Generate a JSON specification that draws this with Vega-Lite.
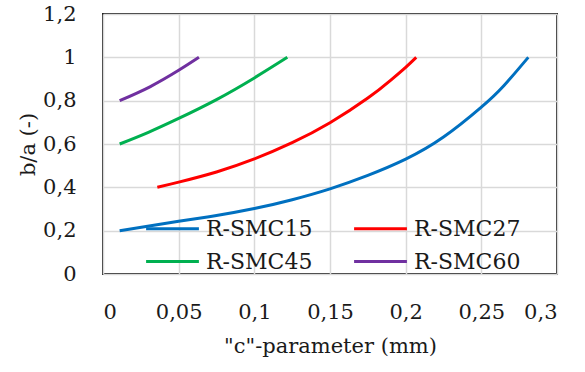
{
  "$schema": "https://vega.github.io/schema/vega-lite/v6.json",
  "width": 454,
  "height": 260,
  "autosize": "none",
  "padding": {"left": 103, "top": 14, "right": 28, "bottom": 98},
  "background": "white",
  "config": {
    "view": {"stroke": "#222222", "strokeWidth": 2},
    "font": "DejaVu Serif",
    "axis": {
      "grid": true,
      "gridColor": "#d9d9d9",
      "gridWidth": 1.5,
      "domain": false,
      "ticks": false,
      "labelFont": "DejaVu Serif",
      "labelFontSize": 21,
      "labelColor": "#1a1a1a",
      "titleFont": "DejaVu Serif",
      "titleFontSize": 21,
      "titleFontWeight": "normal",
      "titleColor": "#1a1a1a"
    },
    "legend": {
      "labelFont": "DejaVu Serif",
      "labelFontSize": 22,
      "labelColor": "#1a1a1a"
    }
  },
  "data": {
    "values": [
      {"series": "R-SMC15", "c": 0.011, "ba": 0.2},
      {"series": "R-SMC15", "c": 0.05, "ba": 0.243},
      {"series": "R-SMC15", "c": 0.075, "ba": 0.27},
      {"series": "R-SMC15", "c": 0.1, "ba": 0.302},
      {"series": "R-SMC15", "c": 0.125, "ba": 0.343},
      {"series": "R-SMC15", "c": 0.15, "ba": 0.393},
      {"series": "R-SMC15", "c": 0.175, "ba": 0.455},
      {"series": "R-SMC15", "c": 0.2, "ba": 0.53},
      {"series": "R-SMC15", "c": 0.225, "ba": 0.632},
      {"series": "R-SMC15", "c": 0.25, "ba": 0.77},
      {"series": "R-SMC15", "c": 0.265, "ba": 0.87},
      {"series": "R-SMC15", "c": 0.281, "ba": 1.0},
      {"series": "R-SMC27", "c": 0.0359, "ba": 0.4},
      {"series": "R-SMC27", "c": 0.05, "ba": 0.424},
      {"series": "R-SMC27", "c": 0.075, "ba": 0.471},
      {"series": "R-SMC27", "c": 0.1, "ba": 0.531},
      {"series": "R-SMC27", "c": 0.125, "ba": 0.606},
      {"series": "R-SMC27", "c": 0.15, "ba": 0.698},
      {"series": "R-SMC27", "c": 0.175, "ba": 0.812},
      {"series": "R-SMC27", "c": 0.19, "ba": 0.894},
      {"series": "R-SMC27", "c": 0.2, "ba": 0.954},
      {"series": "R-SMC27", "c": 0.207, "ba": 1.0},
      {"series": "R-SMC45", "c": 0.011, "ba": 0.6},
      {"series": "R-SMC45", "c": 0.03, "ba": 0.654},
      {"series": "R-SMC45", "c": 0.05, "ba": 0.718},
      {"series": "R-SMC45", "c": 0.075, "ba": 0.805},
      {"series": "R-SMC45", "c": 0.1, "ba": 0.905},
      {"series": "R-SMC45", "c": 0.1218, "ba": 1.0},
      {"series": "R-SMC60", "c": 0.011, "ba": 0.8},
      {"series": "R-SMC60", "c": 0.031, "ba": 0.864},
      {"series": "R-SMC60", "c": 0.05, "ba": 0.94},
      {"series": "R-SMC60", "c": 0.0634, "ba": 1.0}
    ]
  },
  "mark": {"type": "line", "strokeWidth": 3, "interpolate": "natural"},
  "encoding": {
    "x": {
      "field": "c",
      "type": "quantitative",
      "scale": {"domain": [0, 0.3], "nice": false},
      "axis": {
        "values": [0, 0.05, 0.1, 0.15, 0.2, 0.25, 0.3],
        "labelExpr": "replace(format(datum.value, '~g'), '.', ',')",
        "labelPadding": 27,
        "titlePadding": 13,
        "title": "\"c\"-parameter (mm)"
      }
    },
    "y": {
      "field": "ba",
      "type": "quantitative",
      "scale": {"domain": [0, 1.2], "nice": false},
      "axis": {
        "values": [0, 0.2, 0.4, 0.6, 0.8, 1, 1.2],
        "labelExpr": "replace(format(datum.value, '~g'), '.', ',')",
        "labelPadding": 27,
        "titlePadding": 4,
        "title": "b/a (-)"
      }
    },
    "color": {
      "field": "series",
      "type": "nominal",
      "scale": {
        "domain": ["R-SMC15", "R-SMC27", "R-SMC45", "R-SMC60"],
        "range": ["#0070C0", "#FF0000", "#00B050", "#7030A0"]
      },
      "legend": {
        "title": null,
        "orient": "none",
        "direction": "horizontal",
        "legendX": 57,
        "legendY": 202,
        "columns": 2,
        "columnPadding": 35,
        "rowPadding": 9,
        "symbolType": "M-2.4,0H2.4",
        "symbolSize": 484,
        "symbolStrokeWidth": 3,
        "labelOffset": 21
      }
    }
  }
}
